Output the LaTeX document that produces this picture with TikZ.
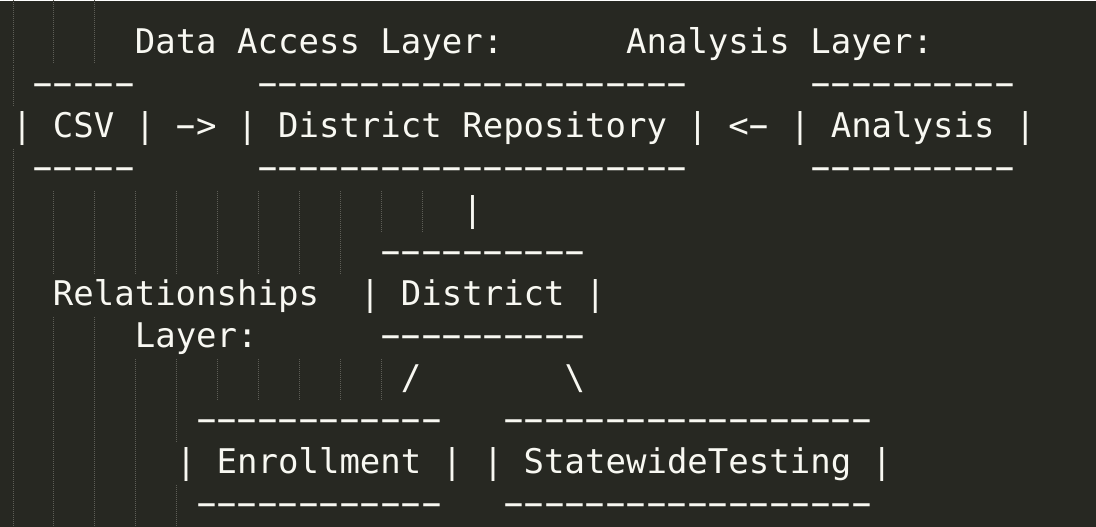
\documentclass[tikz,border=0pt]{standalone}
\usepackage{fontspec}
\setmonofont{DejaVu Sans Mono}
\usepackage{graphicx}
\usepackage{tikz}
\usetikzlibrary{positioning}
\definecolor{bg}{HTML}{272822}
\definecolor{fg}{HTML}{F8F8F2}
\definecolor{guide}{HTML}{5E5E57}
\newcommand{\cw}{20.47pt}
% one wide hyphen per character cell
\newcommand{\hy}{\makebox[\cw][c]{\scalebox{1.9}[1.1]{-}}}
\newcommand{\dashrow}[1]{\foreach \i in {1,...,#1}{\hy}}

\begin{document}
\begin{tikzpicture}[
    x=\cw, y=-42pt,
    code/.style={anchor=base west, inner sep=0pt, outer sep=0pt, text=fg,
                 font=\ttfamily\fontsize{34pt}{42pt}\selectfont},
    guideline/.style={draw=guide, line width=1pt, dash pattern=on 1pt off 1pt},
    node distance=\cw,
]
\fill[bg] (-12pt,53pt) rectangle (1084pt,-473pt);

% indent guides
\foreach \k in {0,1,2}
  \draw[guideline] (2*\k+0.05,-1.27) -- (2*\k+0.05,0.23);
\foreach \r/\n in {1/1,3/1,4/11,5/9,6/1,7/3,8/10,9/5,10/4,11/5}
  \foreach \k in {1,...,\n}
    \draw[guideline] ({2*(\k-1)+0.05},\r-0.74) -- ({2*(\k-1)+0.05},\r+0.23);

% layer titles
\node[code] (dalabel) at (6,0) {Data Access Layer:};
\node[code] (anlabel) at (30,0) {Analysis Layer:};

% data access row
\node[code] (csvtop) at (1,1) {\dashrow{5}};
\node[code] (repotop) at (12,1) {\dashrow{21}};
\node[code] (analysistop) at (39,1) {\dashrow{10}};

\node[code] (csv) at (0,2) {| CSV |};
\node[code, base right=of csv] (csvarrow) {\hy>};
\node[code, base right=of csvarrow] (repo) {| District Repository |};
\node[code, base right=of repo] (analysisarrow) {<\hy};
\node[code, base right=of analysisarrow] (analysis) {| Analysis |};

\node[code] (csvbot) at (1,3) {\dashrow{5}};
\node[code] (repobot) at (12,3) {\dashrow{21}};
\node[code] (analysisbot) at (39,3) {\dashrow{10}};

% relationships
\node[code] (repolink) at (22,4) {|};
\node[code] (districttop) at (18,5) {\dashrow{10}};
\node[code] (rellabel) at (2,6) {Relationships};
\node[code] (district) at (17,6) {| District |};
\node[code] (rellabelb) at (6,7) {Layer:};
\node[code] (districtbot) at (18,7) {\dashrow{10}};

\node[code] (enrlink) at (19,8) {/};
\node[code] (testlink) at (27,8) {\textbackslash};

\node[code] (enrtop) at (9,9) {\dashrow{12}};
\node[code] (testtop) at (24,9) {\dashrow{18}};
\node[code] (enrollment) at (8,10) {| Enrollment |};
\node[code, base right=of enrollment] (testing) {| StatewideTesting |};
\node[code] (enrbot) at (9,11) {\dashrow{12}};
\node[code] (testbot) at (24,11) {\dashrow{18}};

\end{tikzpicture}
\end{document}
